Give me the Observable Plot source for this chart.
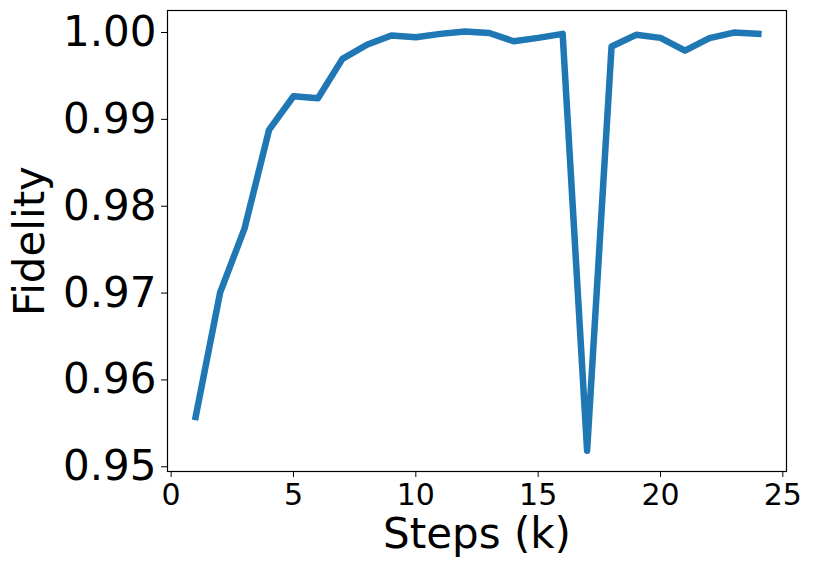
<!DOCTYPE html>
<html>
<head>
<meta charset="utf-8">
<script src="https://cdn.jsdelivr.net/npm/d3@7"></script>
<script src="https://cdn.jsdelivr.net/npm/@observablehq/plot@0.6"></script>
<style>
  html, body { margin: 0; padding: 0; background: #fff; }
  svg { display: block; }
</style>
</head>
<body>
<div id="chart"></div>
<script>
const steps = [1, 2, 3, 4, 5, 6, 7, 8, 9, 10, 11, 12, 13, 14, 15, 16, 17, 18, 19, 20, 21, 22, 23, 24];
const fidelity = [0.9554, 0.9697, 0.9771, 0.98844, 0.99232, 0.99209, 0.99662, 0.99824, 0.99931, 0.99911,
                  0.9995, 0.99977, 0.9996, 0.99865, 0.99904, 0.9995, 0.9515, 0.99804, 0.99939, 0.99904,
                  0.99758, 0.999, 0.99965, 0.9995];
const xTicks = [0, 5, 10, 15, 20, 25];
const yTicks = [0.95, 0.96, 0.97, 0.98, 0.99, 1.00];
const xLabel = "Steps (k)";
const yLabel = "Fidelity";

const data = steps.map((s, i) => ({step: s, fidelity: fidelity[i]}));

const chart = Plot.plot({
  width: 813,
  height: 572,
  marginLeft: 167,
  marginRight: 27,
  marginTop: 10,
  marginBottom: 101,
  style: {fontFamily: "DejaVu Sans", color: "black", background: "white"},
  x: {domain: [-0.15, 25.15]},
  y: {domain: [0.94911, 1.00219]},
  marks: [
    Plot.line(data, {x: "step", y: "fidelity", stroke: "#1f77b4", strokeWidth: 6.5, strokeLinecap: "square", strokeLinejoin: "round"}),
    Plot.frame({stroke: "black", strokeWidth: 1.2}),
    Plot.axisX({ticks: xTicks, tickFormat: d => String(d), tickSize: 6, tickPadding: 6, fontSize: 30, label: null}),
    Plot.axisY({ticks: yTicks, tickFormat: d3.format(".2f"), tickSize: 6, tickPadding: 5, fontSize: 42, dy: 3, label: null}),
    Plot.text([xLabel], {frameAnchor: "bottom", textAnchor: "middle", lineAnchor: "middle", dy: 63, fontSize: 42, fill: "black"}),
    Plot.text([yLabel], {frameAnchor: "left", textAnchor: "middle", lineAnchor: "middle", rotate: -90, dx: -137, fontSize: 42, fill: "black"})
  ]
});
document.getElementById("chart").appendChild(chart);
</script>
</body>
</html>
